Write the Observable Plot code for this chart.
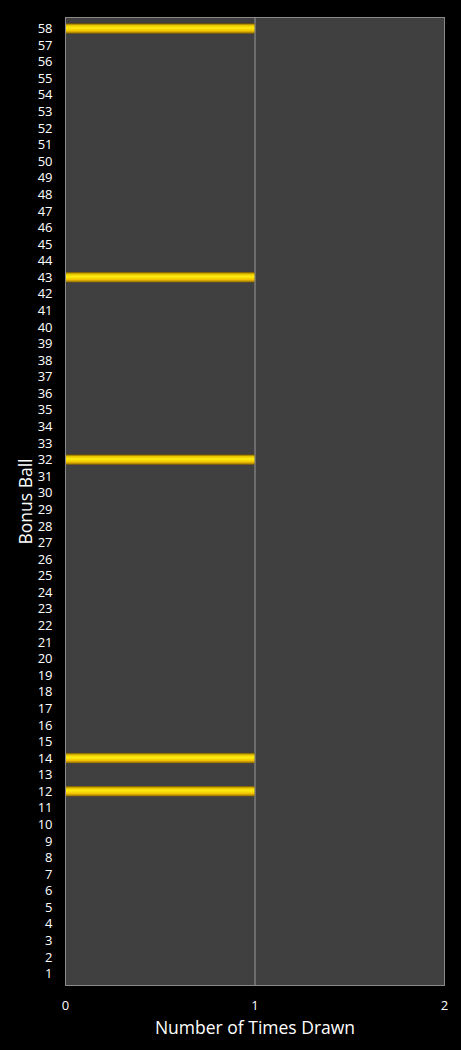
<!DOCTYPE html>
<html><head><meta charset="utf-8">
<script src="https://cdn.jsdelivr.net/npm/d3@7"></script>
<script src="https://cdn.jsdelivr.net/npm/@observablehq/plot@0.6"></script>
<style>
html,body{margin:0;padding:0;background:#000;}
</style>
</head><body>
<div id="chart"></div>
<script>
const balls = d3.range(1, 59);
const drawnBalls = [12, 14, 32, 43, 58];
const drawnCounts = [1, 1, 1, 1, 1];
const xTicks = [0, 1, 2];

const data = balls.map(b => {
  const i = drawnBalls.indexOf(b);
  return {ball: b, count: i >= 0 ? drawnCounts[i] : 0};
});

const chart = Plot.plot({
  width: 461,
  height: 1050,
  marginLeft: 65,
  marginRight: 17,
  marginTop: 17,
  marginBottom: 65,
  style: {background: "#000", color: "#fff", fontFamily: "Open Sans, sans-serif", fontSize: "13px"},
  x: {domain: [0, 2], ticks: xTicks, tickFormat: d3.format("d"), label: "Number of Times Drawn", labelArrow: "none", labelAnchor: "center", labelOffset: 48, tickSize: 0, tickPadding: 15},
  y: {domain: balls.slice().reverse(), label: "Bonus Ball", labelAnchor: "center", labelOffset: 46, tickSize: 0, tickPadding: 13, padding: 0.38},
  marks: [
    () => {
      const ns = "http://www.w3.org/2000/svg";
      const g = document.createElementNS(ns, "defs");
      g.innerHTML = `<linearGradient id="gold" x1="0" y1="0" x2="0" y2="1">
        <stop offset="0" stop-color="#6a5000"/>
        <stop offset="0.2" stop-color="#e8c400"/>
        <stop offset="0.45" stop-color="#ffee10"/>
        <stop offset="0.75" stop-color="#f0c000"/>
        <stop offset="1" stop-color="#8a6400"/>
      </linearGradient>`;
      return g;
    },
    Plot.frame({fill: "#404040", stroke: "#8a8a8a", strokeWidth: 1}),
    Plot.ruleX([1], {stroke: "#999", strokeWidth: 1}),
    Plot.barX(data.filter(d => d.count > 0), {x: "count", y: "ball", fill: "url(#gold)"}),
    Plot.frame({stroke: "#8a8a8a", strokeWidth: 1})
  ]
});
document.getElementById("chart").appendChild(chart);
chart.querySelectorAll("text").forEach(t => {
  const s = t.textContent.trim();
  if (s === "Number of Times Drawn" || s === "Bonus Ball") {
    t.setAttribute("font-size", "17.5");
    t.style.fontSize = "17.5px";
  }
});
</script>
</body></html>
